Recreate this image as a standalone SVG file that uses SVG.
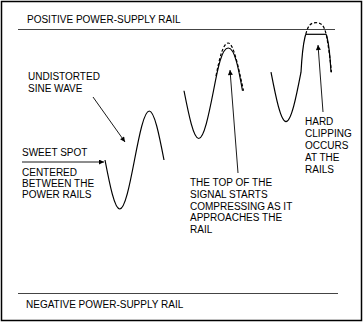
<svg xmlns="http://www.w3.org/2000/svg" width="364" height="322" viewBox="0 0 364 322">
<style>
text{font-family:"Liberation Sans",Arial,sans-serif;font-size:10px;fill:#000}
.rail{stroke:#444;stroke-width:1.2;fill:none}
.wave{stroke:#000;stroke-width:1.2;fill:none}
.dash{stroke:#000;stroke-width:1.2;fill:none;stroke-dasharray:3 2}
.arr{stroke:#000;stroke-width:0.9;fill:none;marker-end:url(#ah)}
</style>
<defs>
<marker id="ah" viewBox="0 0 10 10" refX="10" refY="5" markerWidth="7" markerHeight="5" markerUnits="userSpaceOnUse" orient="auto">
<path d="M0,0 L10,5 L0,10 z" fill="#000"/>
</marker>
<clipPath id="clip3"><rect x="250" y="34.3" width="100" height="120"/></clipPath>
</defs>
<rect x="1.5" y="1.5" width="360" height="319" fill="#fff" stroke="#000" stroke-width="1.5"/>
<g id="positive-rail">
<line class="rail" x1="18" y1="29.5" x2="335" y2="29.5"/>
<text x="27" y="23">POSITIVE POWER-SUPPLY RAIL</text>
</g>
<g id="negative-rail">
<line class="rail" x1="18" y1="293.5" x2="338" y2="293.5"/>
<text x="26" y="308">NEGATIVE POWER-SUPPLY RAIL</text>
</g>
<g id="wave1">
<path class="wave" d="M105,160 C109.81,185.09 114.6,209 119.75,209 C124.9,209 129.69,185.09 134.5,160 C139.31,134.91 144.1,111 149.25,111 C154.4,111 159.19,134.91 164,160"/>
</g>
<g id="wave2">
<path class="wave" d="M184,90.75 C188.81,115.2 193.6,138.5 198.75,138.5 C203.9,138.5 208.69,115.2 213.5,90.75 C217.8,68 221.8,48 228.25,48 C234.7,48 238.5,68 242.5,90.75"/>
<path class="dash" d="M216,76 C219.5,58 223.1,43 228.25,43 C233.4,43 238.19,66.3 243.5,90.75"/>
</g>
<g id="wave3">
<path class="wave" clip-path="url(#clip3)" d="M271,72.2 C275.89,97.55 280.77,121.7 286,121.7 C291.24,121.7 296.11,97.55 301,72.2 C302.5,45 305,22.7 316,22.7 C327,22.7 329.5,45 331,72.2"/>
<line class="wave" x1="305.8" y1="34.3" x2="326.2" y2="34.3"/>
<path class="dash" d="M305.8,34.3 C308,25 311,22.7 316,22.7 C321,22.7 324,25 326.2,34.3 C328.5,46 330,58 331.5,72.2"/>
</g>
<g id="labels">
<text x="28" y="80">UNDISTORTED</text>
<text x="28" y="91.5">SINE WAVE</text>
<text x="22" y="156">SWEET SPOT</text>
<text x="22" y="176">CENTERED</text>
<text x="22" y="187">BETWEEN THE</text>
<text x="22" y="198">POWER RAILS</text>
<text x="190" y="186">THE TOP OF THE</text>
<text x="190" y="197.8">SIGNAL STARTS</text>
<text x="190" y="209.6">COMPRESSING AS IT</text>
<text x="190" y="221.4">APPROACHES THE</text>
<text x="190" y="233.2">RAIL</text>
<text x="305" y="125">HARD</text>
<text x="305" y="137">CLIPPING</text>
<text x="305" y="149">OCCURS</text>
<text x="305" y="161">AT THE</text>
<text x="305" y="173">RAILS</text>
</g>
<g id="connectors">
<line class="arr" x1="93" y1="97" x2="125" y2="142"/>
<line class="arr" x1="22" y1="162" x2="104" y2="162"/>
<line class="arr" x1="238" y1="173" x2="230" y2="70"/>
<line class="arr" x1="323" y1="112" x2="318" y2="45"/>
</g>
</svg>
